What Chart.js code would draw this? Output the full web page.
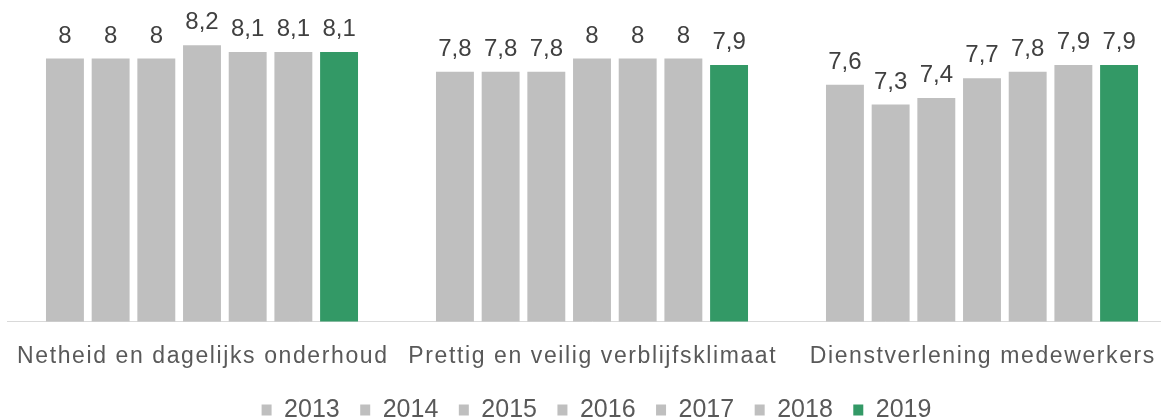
<!DOCTYPE html>
<html>
<head>
<meta charset="utf-8">
<script src="https://cdn.jsdelivr.net/npm/chart.js@4/dist/chart.umd.min.js"></script>
<style>
  html, body { margin: 0; padding: 0; background: #fff; overflow: hidden; }
  #wrap { width: 1161px; height: 418px; overflow: hidden; }
</style>
</head>
<body>
<div id="wrap"><canvas id="c" width="1180" height="418"></canvas></div>
<script>
categories = ['Netheid en dagelijks onderhoud', 'Prettig en veilig verblijfsklimaat', 'Dienstverlening medewerkers']
years      = ['2013', '2014', '2015', '2016', '2017', '2018', '2019']

s2013 = [8,   7.8, 7.6]
s2014 = [8,   7.8, 7.3]
s2015 = [8,   7.8, 7.4]
s2016 = [8.2, 8,   7.7]
s2017 = [8.1, 8,   7.8]
s2018 = [8.1, 8,   7.9]
s2019 = [8.1, 7.9, 7.9]

series = [s2013, s2014, s2015, s2016, s2017, s2018, s2019]

gray  = '#bfbfbf'
green = '#339966'
font  = '"Liberation Sans", Arial, sans-serif'

// value labels above bars (decimal comma) + category names under the axis
labelsPlugin = {
    id: 'labelsPlugin',
    afterDatasetsDraw(chart) {
        const ctx = chart.ctx
        ctx.save()
        ctx.font = '24px ' + font
        ctx.fillStyle = '#404040'
        ctx.textAlign = 'center'
        ctx.textBaseline = 'alphabetic'
        chart.data.datasets.forEach((ds, i) => {
            chart.getDatasetMeta(i).data.forEach((bar, j) => {
                ctx.fillText(String(ds.data[j]).replace('.', ','), bar.x, bar.y - 16)
            })
        })

        const x = chart.scales.x
        ctx.font = '23px ' + font
        ctx.fillStyle = '#595959'
        ctx.letterSpacing = '1.6px'
        chart.data.labels.forEach((lab, i) => {
            ctx.fillText(lab, x.getPixelForTick(i) + 0.8, x.top + 41)
        })
        ctx.restore()
    }
}

// put legend where the original has it
legendPlace = {
    id: 'legendPlace',
    afterLayout(chart) {
        const lg = chart.legend
        const h = lg.bottom - lg.top
        lg.top = 377
        lg.bottom = lg.top + h
        const dx = 596.5 - (lg.left + lg.right) / 2
        lg.left += dx
        lg.right += dx
    }
}

new Chart(document.getElementById('c').getContext('2d'), {
    type: 'bar',
    data: {
        labels: categories,
        datasets: years.map((y, i) => ({
            label: y,
            data: series[i],
            backgroundColor: i == 6 ? green : gray,
            borderWidth: 0,
            categoryPercentage: 0.82,
            barPercentage: 0.83
        }))
    },
    options: {
        responsive: false,
        animation: false,
        devicePixelRatio: 1,
        layout: { padding: { left: 7, right: 3, top: 0, bottom: 0 } },
        scales: {
            x: {
                grid: { display: false, drawTicks: false },
                border: { display: true, color: '#d9d9d9', width: 1 },
                ticks: { display: false },
                afterFit(scale) { scale.height = 41 }
            },
            y: {
                display: false,
                min: 4,
                max: 8.89
            }
        },
        plugins: {
            tooltip: { enabled: false },
            legend: {
                position: 'bottom',
                labels: {
                    color: '#595959',
                    font: { family: font, size: 25 },
                    boxWidth: 10,
                    boxHeight: 11,
                    padding: 20.5
                }
            }
        }
    },
    plugins: [labelsPlugin, legendPlace]
})
</script>
</body>
</html>
